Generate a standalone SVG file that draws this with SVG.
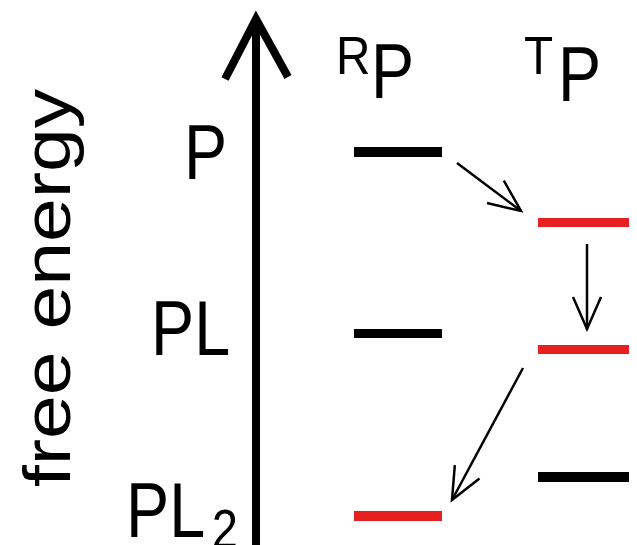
<svg xmlns="http://www.w3.org/2000/svg" width="637" height="545" viewBox="0 0 637 545">
  <style>
    .lbl { font-family: "Liberation Sans", Arial, sans-serif; fill: #000; }
    .big { font-size: 77px; }
    .sup { font-size: 53px; }
    .lvl-k { fill: #000; }
    .lvl-r { fill: #e62020; }
    .axis { fill: none; stroke: #000; stroke-width: 8; stroke-linejoin: miter; stroke-linecap: butt; }
    .step { fill: none; stroke: #000; stroke-width: 2.5; marker-end: url(#vee); }
  </style>
  <defs>
    <marker id="vee" markerUnits="userSpaceOnUse" markerWidth="36" markerHeight="32" refX="33" refY="16" orient="auto" viewBox="0 0 36 32">
      <path d="M1,2 L33,16 L1,30" fill="none" stroke="#000" stroke-width="2.5"/>
    </marker>
  </defs>
  <rect width="637" height="545" fill="#fff"/>

  <!-- vertical axis title -->
  <g id="axis-title">
    <text class="lbl" font-size="66" transform="translate(70,487) rotate(-90)" textLength="398" lengthAdjust="spacingAndGlyphs">free energy</text>
  </g>

  <!-- state labels on the left -->
  <g id="label-P">
    <text class="lbl big" transform="translate(184,179) scale(0.84,1)">P</text>
  </g>
  <g id="label-PL">
    <text class="lbl big" transform="translate(151,355) scale(0.84,1)">PL</text>
  </g>
  <g id="label-PL2">
    <text class="lbl big" transform="translate(126,537) scale(0.84,1)">PL<tspan font-size="56" dx="8" dy="11">2</tspan></text>
  </g>

  <!-- column headers -->
  <g id="header-RP">
    <text class="lbl sup" transform="translate(336,74) scale(0.9,1)">R</text>
    <text class="lbl big" transform="translate(371,98) scale(0.84,1)">P</text>
  </g>
  <g id="header-TP">
    <text class="lbl sup" transform="translate(524,74) scale(0.9,1)">T</text>
    <text class="lbl big" transform="translate(558,101) scale(0.84,1)">P</text>
  </g>

  <!-- energy levels, R column -->
  <g id="R-P"><rect class="lvl-k" x="354" y="147" width="88" height="10"/></g>
  <g id="R-PL"><rect class="lvl-k" x="354" y="329" width="88" height="9"/></g>
  <g id="R-PL2"><rect class="lvl-r" x="354" y="511" width="88" height="10"/></g>

  <!-- energy levels, T column -->
  <g id="T-P"><rect class="lvl-r" x="538" y="218" width="91" height="9"/></g>
  <g id="T-PL"><rect class="lvl-r" x="538" y="345" width="91" height="9"/></g>
  <g id="T-PL2"><rect class="lvl-k" x="538" y="472" width="91" height="10"/></g>

  <!-- connectors -->
  <g id="connectors">
    <line class="axis" x1="256" y1="545" x2="256" y2="20"/>
    <polyline class="axis" points="225,79 256,19 288,77"/>
    <line class="step" x1="457" y1="163" x2="521" y2="211"/>
    <line class="step" x1="587" y1="244" x2="587" y2="329"/>
    <line class="step" x1="523" y1="368" x2="452" y2="500"/>
  </g>
</svg>
